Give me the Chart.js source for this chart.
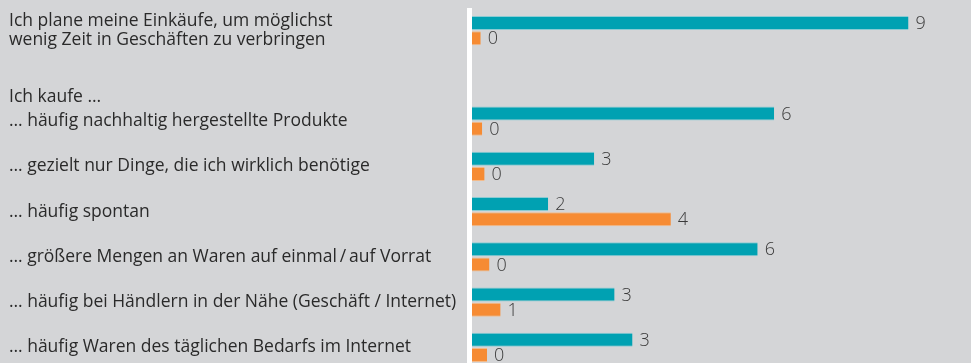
<!DOCTYPE html>
<html lang="de">
<head>
<meta charset="utf-8">
<title>Einkaufsverhalten</title>
<script src="https://cdn.jsdelivr.net/npm/chart.js@4/dist/chart.umd.min.js"></script>
<style>
  html, body { margin: 0; padding: 0; background: #d4d5d7; overflow: hidden; }
  body { width: 971px; height: 363px; }
  #wrap { position: relative; width: 971px; height: 370px; }
</style>
</head>
<body>
<div id="wrap"><canvas id="chart"></canvas></div>
<script>
// Aussagen (Zeile 2 ist nur Platz für die Zwischenüberschrift)
const categories = [
  ['Ich plane meine Einkäufe, um möglichst', 'wenig Zeit in Geschäften zu verbringen'],
  '',
  '… häufig nachhaltig hergestellte Produkte',
  '… gezielt nur Dinge, die ich wirklich benötige',
  '… häufig spontan',
  '… größere Mengen an Waren auf einmal\u2009/\u2009auf Vorrat',
  '… häufig bei Händlern in der Nähe (Geschäft / Internet)',
  '… häufig Waren des täglichen Bedarfs im Internet'
];
const groupHeader = 'Ich kaufe …';

// Werte der beiden Gruppen (Beschriftung gerundet)
const seriesTeal   = [9.0, null, 6.23, 2.52, 1.57, 5.89, 2.94, 3.31];
const seriesOrange = [0.18, null, 0.21, 0.26, 4.10, 0.36, 0.59, 0.31];

const xMax = 10;

const TEAL = '#00a1b2';
const ORANGE = '#f68b33';
const TEXT = '#2a2a2a';
const FONT = "'Open Sans', 'Noto Sans', sans-serif";

// weiße Nulllinie links neben den Balken
const zeroLine = {
  id: 'zeroLine',
  beforeDatasetsDraw(chart) {
    const { ctx, chartArea } = chart;
    ctx.save();
    ctx.fillStyle = '#ffffff';
    ctx.fillRect(chartArea.left - 5, chartArea.top, 5, chartArea.bottom - chartArea.top);
    ctx.restore();
  }
};

// Zwischenüberschrift und Wertebeschriftungen
const annotations = {
  id: 'annotations',
  afterDatasetsDraw(chart) {
    const { ctx } = chart;
    const y = chart.scales.y;
    ctx.save();
    ctx.font = '17.5px ' + FONT;
    ctx.fillStyle = TEXT;
    ctx.textAlign = 'left';
    ctx.textBaseline = 'middle';
    ctx.fillText(groupHeader, y.left, y.getPixelForValue(1.5) - 1);

    ctx.font = '300 18px ' + FONT;
    ctx.fillStyle = '#3a3a3a';
    chart.data.datasets.forEach((ds, di) => {
      const meta = chart.getDatasetMeta(di);
      meta.data.forEach((bar, i) => {
        const v = ds.data[i];
        if (v === null || v === undefined) return;
        ctx.fillText(String(Math.round(v)), bar.x + 7, bar.y + 1);
      });
    });
    ctx.restore();
  }
};

new Chart(document.getElementById('chart'), {
  type: 'bar',
  data: {
    labels: categories,
    datasets: [
      {
        label: 'A',
        data: seriesTeal,
        backgroundColor: TEAL,
        borderColor: 'rgba(120,200,210,0.8)',
        borderWidth: { top: 1, bottom: 1, right: 0, left: 0 },
        borderSkipped: false,
        categoryPercentage: 0.672,
        barPercentage: 0.92
      },
      {
        label: 'B',
        data: seriesOrange,
        backgroundColor: ORANGE,
        borderColor: 'rgba(250,180,120,0.8)',
        borderWidth: { top: 1, bottom: 1, right: 0, left: 0 },
        borderSkipped: false,
        categoryPercentage: 0.672,
        barPercentage: 0.92
      }
    ]
  },
  options: {
    indexAxis: 'y',
    responsive: true,
    maintainAspectRatio: false,
    animation: false,
    layout: { padding: { left: 9, top: 8, right: 14, bottom: 0 } },
    plugins: {
      legend: { display: false },
      tooltip: { enabled: false }
    },
    scales: {
      x: {
        min: 0,
        max: xMax,
        display: false,
        grid: { display: false }
      },
      y: {
        grid: { display: false },
        border: { display: false },
        afterFit(scale) {
          scale.width = 463;
          scale.paddingTop = 0;
          scale.paddingBottom = 0;
        },
        ticks: {
          crossAlign: 'far',
          color: TEXT,
          padding: 0,
          font: { family: FONT, size: 17.5, lineHeight: 1.05 }
        }
      }
    }
  },
  plugins: [zeroLine, annotations]
});
</script>
</body>
</html>
